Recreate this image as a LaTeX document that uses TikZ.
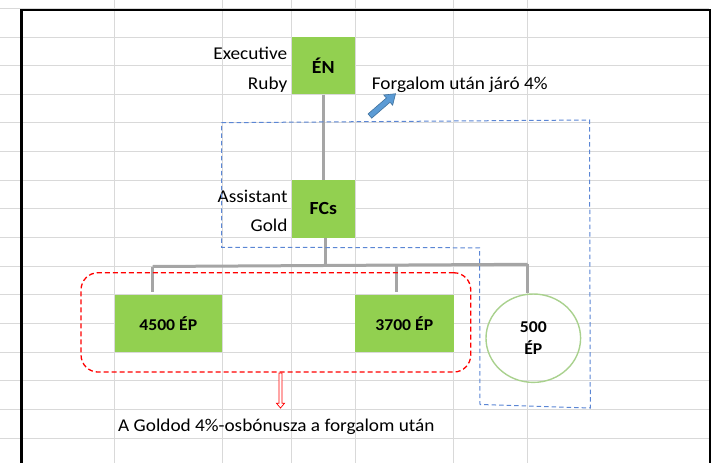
\documentclass[tikz,border=0pt]{standalone}
\usepackage{fontspec}
\setmainfont[FakeStretch=1.07]{Carlito}
\usepackage{tikz}
\usetikzlibrary{positioning,shapes.geometric,shapes.arrows}

\definecolor{cellgreen}{HTML}{92D050}
\definecolor{ringgreen}{HTML}{A9D18E}
\definecolor{linegray}{HTML}{A5A5A5}
\definecolor{gridgray}{HTML}{D9D9D9}
\definecolor{dashblue}{HTML}{5B86D4}
\definecolor{arrowblue}{HTML}{5B9BD5}
\definecolor{arrowedge}{HTML}{41719C}

\tikzset{
    rankbox/.style={fill=cellgreen, minimum width=63.5pt, minimum height=57.4pt, inner sep=0pt,
        font=\fontsize{18.5}{22}\selectfont\bfseries},
    epbox/.style={fill=cellgreen, minimum height=57.4pt, inner sep=0pt,
        font=\fontsize{16.5}{21}\selectfont\bfseries},
    lbl/.style={inner sep=0pt, font=\fontsize{18}{22}\selectfont},
    tree/.style={draw=linegray, line width=3pt},
    gridline/.style={draw=gridgray, line width=1pt},
}

\begin{document}
\begin{tikzpicture}[x=1pt, y=-1pt]
        \useasboundingbox (0,0) rectangle (716,463);
        \begin{scope}
            \clip (0,0) rectangle (716,463);
            \foreach \gx in {114.5,222,291.5,355,453.5,527.5}
                \draw[gridline] (\gx,0) -- (\gx,463);
            \foreach \k in {-1,...,14}
                \draw[gridline] (0,{37+28.65*\k}) -- (709,{37+28.65*\k});
            \draw[line width=2.4pt] (21.5,480) -- (21.5,10.2) -- (709.8,10.2) -- (709.8,480);
        \end{scope}

        \node[rankbox] (en) at (323.25,65.6) {ÉN};
        \node[rankbox] (fcs) at (323.25,209) {FCs};
        \node[epbox, minimum width=107.5pt] (ep4500) at (168.25,323.25) {4500 ÉP};
        \node[epbox, minimum width=98.5pt] (ep3700) at (404.25,323.25) {3700 ÉP};
        \node[ellipse, draw=ringgreen, line width=1.4pt, minimum width=94.6pt, minimum height=88.4pt,
            inner sep=0pt, align=center, font=\fontsize{16.5}{21.7}\selectfont\bfseries] (ep500) at (533.3,338.2) {500\\ÉP};

        \node[lbl, anchor=base east] (exec) at (287.5,59.3) {Executive};
        \node[lbl, anchor=base east] (ruby) at (287.5,89) {Ruby};
        \node[lbl, anchor=base east] (assist) at (287.7,202) {Assistant};
        \node[lbl, anchor=base east] (gold) at (287.7,231) {Gold};
        \node[lbl, anchor=base west] (turnover) at (371.7,89) {Forgalom után járó 4\%};
        \node[lbl, anchor=base west] (bonus) at (118,431) {A Goldod 4\%-osbónusza a forgalom után};

        \draw[tree] (en) -- (fcs);
        \coordinate (hub) at (325.5,265.3);
        \coordinate (d1) at (152.7,266.5);
        \coordinate (d2) at (396.7,265.2);
        \coordinate (d3) at (527.7,264.3);
        \draw[tree] (fcs.south -| hub) -- (hub);
        \draw[tree] (d1) -- (d3);
        \draw[tree, shorten >=2.5pt] (d1) -- (d1 |- ep4500.north);
        \draw[tree, shorten >=2.5pt] (d2) -- (d2 |- ep3700.north);
        \draw[tree] (d3) -- (d3 |- ep500.north);

        \node[draw=red, dashed, dash pattern=on 5pt off 3pt, line width=1.3pt, rounded corners=17pt,
            minimum width=389.7pt, minimum height=99.3pt] (goldgroup) at (275.9,322.4) {};
        \draw[draw=dashblue, line width=1pt, dash pattern=on 4.5pt off 3pt]
            (221.7,122.7) -- (589.5,120) -- (590.3,408) -- (480,404.5) -- (479.5,247.8) -- (221.7,247.3) -- cycle;

        \node[single arrow, draw=arrowedge, fill=arrowblue, line width=0.6pt, inner sep=2.5pt,
            single arrow head extend=4pt, single arrow tip angle=70, minimum height=34pt,
            rotate=41] (upmark) at (381.2,106.2) {};
        \node[single arrow, draw=red, fill=white, line width=0.7pt, inner sep=1.2pt,
            single arrow head extend=2.5pt, single arrow tip angle=80, minimum height=35pt,
            rotate=-90, anchor=tail] (downmark) at (280.5,0 |- goldgroup.south) {};
    \end{tikzpicture}
\end{document}
